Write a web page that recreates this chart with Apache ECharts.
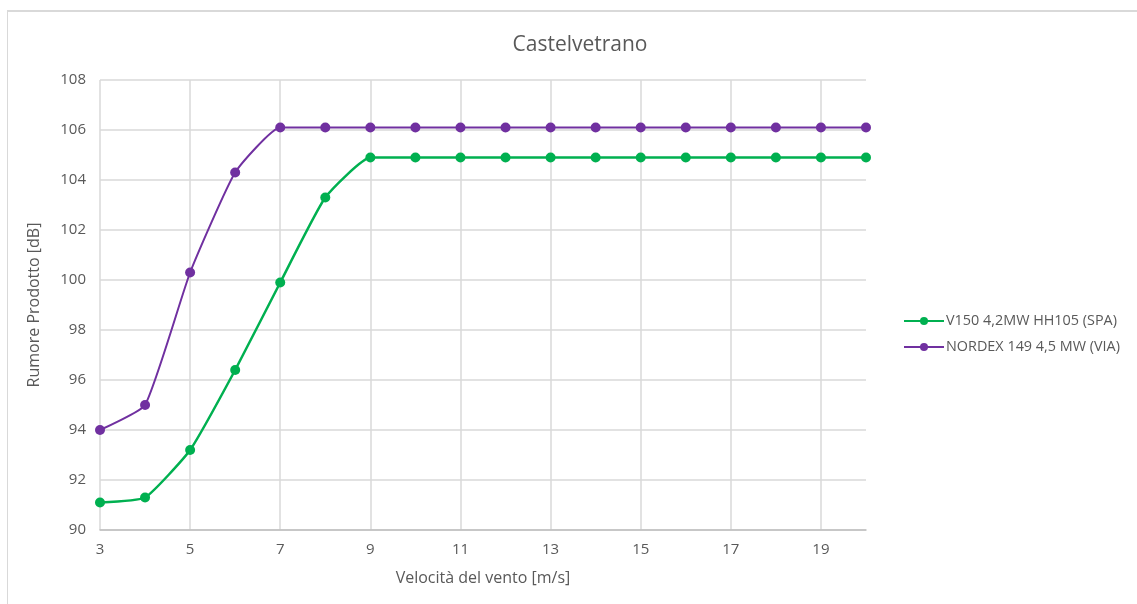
<!DOCTYPE html>
<html>
<head>
<meta charset="utf-8">
<script src="https://cdn.jsdelivr.net/npm/echarts@6/dist/echarts.min.js"></script>
<style>
html,body{margin:0;padding:0;background:#fff;}
#frame{position:absolute;left:7px;top:10px;width:1130px;height:594px;border-left:1px solid #d9d9d9;border-top:2px solid #d9d9d9;box-sizing:border-box;}
#chart{position:absolute;left:0;top:0;width:1137px;height:604px;}
</style>
</head>
<body>
<div id="frame"></div>
<div id="chart"></div>
<script>
const titleText = "Castelvetrano";
const xAxisName = "Velocità del vento [m/s]";
const yAxisName = "Rumore Prodotto [dB]";
const categories = ["3","4","5","6","7","8","9","10","11","12","13","14","15","16","17","18","19","20"];
const seriesNames = ["V150 4,2MW HH105 (SPA)", "NORDEX 149 4,5 MW (VIA)"];
const v150 = [91.1, 91.3, 93.2, 96.4, 99.9, 103.3, 104.9, 104.9, 104.9, 104.9, 104.9, 104.9, 104.9, 104.9, 104.9, 104.9, 104.9, 104.9];
const nordex = [94.0, 95.0, 100.3, 104.3, 106.1, 106.1, 106.1, 106.1, 106.1, 106.1, 106.1, 106.1, 106.1, 106.1, 106.1, 106.1, 106.1, 106.1];
const yTicks = {min: 90, max: 108, interval: 2};

const FONT = "'Open Sans', sans-serif";
const chart = echarts.init(document.getElementById('chart'), null, {renderer: 'canvas'});
chart.setOption({
  animation: false,
  backgroundColor: 'transparent',
  title: {
    text: titleText, left: 575, textAlign: 'center', top: 30,
    textStyle: {fontFamily: FONT, fontSize: 21, fontWeight: 'normal', color: '#595959'}
  },
  legend: {
    orient: 'vertical', left: 898, top: 309, itemGap: 12,
    itemWidth: 40, itemHeight: 10,
    textStyle: {fontFamily: FONT, fontSize: 14.4, color: '#595959', padding: [0,0,0,-3]},
    data: seriesNames
  },
  grid: {left: 100, right: 271, top: 80, bottom: 74},
  xAxis: {
    type: 'category', data: categories, boundaryGap: false,
    name: xAxisName, nameLocation: 'middle', nameGap: 40,
    nameTextStyle: {fontFamily: FONT, fontSize: 16, color: '#595959'},
    axisLine: {lineStyle: {color: '#bfbfbf', width: 1.5}},
    axisTick: {show: false},
    axisLabel: {interval: 1, fontFamily: FONT, fontSize: 15, color: '#595959', margin: 12},
    splitLine: {show: true, interval: 1, lineStyle: {color: '#d9d9d9', width: 1.5}}
  },
  yAxis: {
    type: 'value', min: yTicks.min, max: yTicks.max, interval: yTicks.interval,
    name: yAxisName, nameLocation: 'middle', nameGap: 58,
    nameTextStyle: {fontFamily: FONT, fontSize: 16, color: '#595959'},
    axisLine: {show: false},
    axisTick: {show: false},
    axisLabel: {fontFamily: FONT, fontSize: 15, color: '#595959', margin: 14},
    splitLine: {lineStyle: {color: '#d9d9d9', width: 1.5}}
  },
  series: [
    {
      name: seriesNames[0], type: 'line', data: v150,
      smooth: 0.15,
      symbol: 'circle', symbolSize: 10,
      lineStyle: {color: '#00b050', width: 2.5},
      itemStyle: {color: '#00b050'}
    },
    {
      name: seriesNames[1], type: 'line', data: nordex,
      smooth: 0.15,
      symbol: 'circle', symbolSize: 10,
      lineStyle: {color: '#7030a0', width: 2},
      itemStyle: {color: '#7030a0'}
    }
  ]
});
</script>
</body>
</html>
